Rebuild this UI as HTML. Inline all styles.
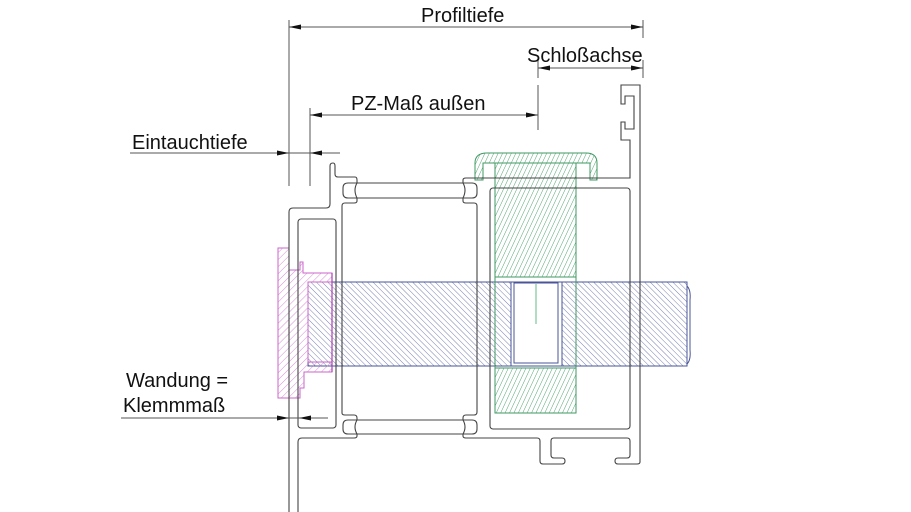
<!DOCTYPE html>
<html><head><meta charset="utf-8"><style>
html,body{margin:0;padding:0;background:#fff;width:911px;height:512px;overflow:hidden}
svg{display:block}
text{font-family:"Liberation Sans",sans-serif;font-size:20px;fill:#111}
</style></head><body>
<svg width="911" height="512" viewBox="0 0 911 512" xmlns="http://www.w3.org/2000/svg">
<defs>
<pattern id="hb" width="4" height="4" patternUnits="userSpaceOnUse" patternTransform="rotate(-45)">
<line x1="0" y1="0" x2="0" y2="4" stroke="#6a74a8" stroke-width="0.9"/></pattern>
<pattern id="hg" width="4" height="4" patternUnits="userSpaceOnUse" patternTransform="rotate(25)">
<line x1="0" y1="0" x2="0" y2="4" stroke="#3f9a63" stroke-width="0.9"/></pattern>
<pattern id="hm" width="5" height="5" patternUnits="userSpaceOnUse" patternTransform="rotate(45)">
<line x1="0" y1="0" x2="0" y2="5" stroke="#d080d0" stroke-width="0.9"/></pattern>
</defs>

<rect x="308" y="282" width="379" height="84" fill="url(#hb)" stroke="#4a5598" stroke-width="1"/>
<path d="M687,286 Q691,290 690,300 L690,350 Q691,360 687,364" fill="none" stroke="#4a5598"/>
<rect x="511" y="282" width="51" height="84" fill="#fff" stroke="#4a5598"/>
<rect x="514" y="283" width="44" height="80" fill="#fff" stroke="#4a5598"/>
<line x1="536" y1="284" x2="536" y2="324" stroke="#7fc49c" stroke-width="1.2"/>

<rect x="495" y="163" width="81" height="114" fill="url(#hg)" stroke="#3f9a63"/>
<path d="M475,180 L475,163 Q475,153 487,153 L586,153 Q597,153 597,163 L597,180 L590,180 L590,163 L483,163 L483,180 Z" fill="url(#hg)" stroke="#3f9a63"/>
<rect x="495" y="368" width="81" height="45" fill="url(#hg)" stroke="#3f9a63"/>
<line x1="495" y1="277" x2="495" y2="368" stroke="#3f9a63"/>
<line x1="576" y1="277" x2="576" y2="368" stroke="#3f9a63"/>

<path d="M278,248 L289,248 L289,270 L300,270 L300,262 L303,262 L303,273 L332,273 L332,282 L308,282 L308,362 L332,362 L332,372 L304,372 L304,388 L300,388 L300,398 L289,398 L278,398 Z" fill="url(#hm)" stroke="#cc66cc" stroke-width="1"/>
<line x1="332" y1="273" x2="332" y2="372" stroke="#b040b0" stroke-width="1.2"/>

<g fill="none" stroke="#444" stroke-width="1.1">
<path d="M289,512 L289,212 Q289,208 293,208 L326,208 Q330,208 330,204 L330,166 Q330,163 333,163 Q335,163 335,166 L335,174 Q335,177 338,177 L355,177 Q357,177 357,180 L357,183"/>
<path d="M357,198 L357,201 Q357,203 354,203 L345,203 Q342,203 342,206 L342,413 Q342,415 345,415 L354,415 Q357,415 357,418 L357,420"/>
<path d="M357,434 L357,436 Q357,438 354,438 L302,438 Q298,438 298,442 L298,512"/>
<rect x="298" y="219" width="38" height="209" rx="3"/>
<path d="M357,183 L463,183 M357,198 L463,198 M348,183 L357,183 Q353,190 357,198 L348,198 Q343,198 343,193 L343,188 Q343,183 348,183 M472,183 L463,183 Q467,190 463,198 L472,198 Q477,198 477,193 L477,188 Q477,183 472,183"/>
<path d="M357,420 L463,420 M357,434 L463,434 M348,420 L357,420 Q353,427 357,434 L348,434 Q343,434 343,429 L343,425 Q343,420 348,420 M472,420 L463,420 Q467,427 463,434 L472,434 Q477,434 477,429 L477,425 Q477,420 472,420"/>
<path d="M463,183 L463,180 Q463,178 466,178 L630,178 L630,140 L621,140 L621,122 L625,122 L625,129 L634,129 L634,96 L625,96 L625,104 L621,104 L621,85 L640,85 L640,462 Q640,464 637,464 L618,464 Q615,464 615,461 Q615,458 618,458 L627,458 Q630,458 630,455 L630,441 Q630,438 627,438 L554,438 Q551,438 551,441 L551,455 Q551,458 554,458 L562,458 Q565,458 565,461 Q565,464 562,464 L543,464 Q540,464 540,461 L540,441 Q540,438 537,438 L466,438 Q463,438 463,436 L463,434"/>
<path d="M463,198 L463,201 Q463,203 466,203 L474,203 Q477,203 477,206 L477,412 Q477,415 474,415 L466,415 Q463,415 463,418 L463,420"/>
<rect x="490" y="188" width="140" height="241" rx="3"/>
</g>

<g stroke="#555" stroke-width="1" fill="none">
<line x1="289" y1="20" x2="289" y2="186"/>
<line x1="643" y1="20" x2="643" y2="38"/>
<line x1="289" y1="27" x2="643" y2="27"/>
<line x1="538" y1="60" x2="538" y2="78"/>
<line x1="643" y1="60" x2="643" y2="78"/>
<line x1="538" y1="68" x2="643" y2="68"/>
<line x1="538" y1="85" x2="538" y2="130"/>
<line x1="310" y1="108" x2="310" y2="186"/>
<line x1="310" y1="115" x2="538" y2="115"/>
<line x1="130" y1="153" x2="340" y2="153"/>
<line x1="121" y1="418" x2="328" y2="418"/>
</g>
<g fill="#111">
<path d="M289,27 l12,-2.5 l0,5 z"/><path d="M643,27 l-12,-2.5 l0,5 z"/>
<path d="M538,68 l12,-2.5 l0,5 z"/><path d="M643,68 l-12,-2.5 l0,5 z"/>
<path d="M310,115 l12,-2.5 l0,5 z"/><path d="M538,115 l-12,-2.5 l0,5 z"/>
<path d="M289,153 l-12,-2.5 l0,5 z"/><path d="M310,153 l12,-2.5 l0,5 z"/>
<path d="M289,418 l-12,-2.5 l0,5 z"/><path d="M299,418 l12,-2.5 l0,5 z"/>
</g>

<text x="421" y="22">Profiltiefe</text>
<text x="527" y="62">Schloßachse</text>
<text x="351" y="110">PZ-Maß außen</text>
<text x="132" y="149">Eintauchtiefe</text>
<text x="126" y="387">Wandung =</text>
<text x="123" y="412">Klemmmaß</text>
</svg>
</body></html>
